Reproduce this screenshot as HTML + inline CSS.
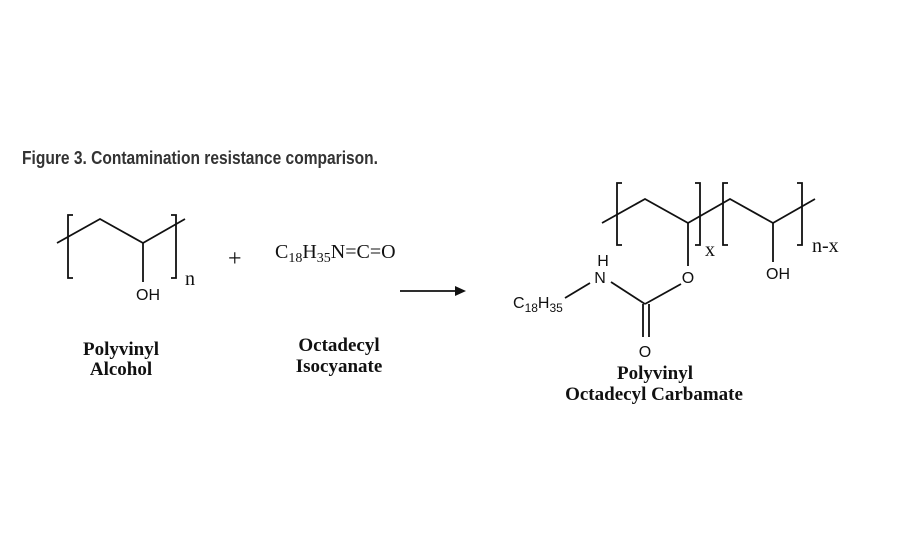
<!DOCTYPE html>
<html><head><style>body{margin:0;background:#fff}svg{display:block}</style></head><body>
<svg width="900" height="550" viewBox="0 0 900 550" xmlns="http://www.w3.org/2000/svg">
<rect width="900" height="550" fill="#fff"/>
<text x="22" y="164" font-family="Liberation Sans, sans-serif" font-weight="bold" font-size="18" fill="#333" textLength="356" lengthAdjust="spacingAndGlyphs">Figure 3. Contamination resistance comparison.</text>
<g stroke="#111" stroke-width="1.8" fill="none">
<polyline points="57,243 100,219 143,243 185,219"/>
<line x1="143" y1="243" x2="143" y2="282"/>
<polyline points="73,215 68,215 68,278 73,278"/>
<polyline points="171,215 176,215 176,278 171,278"/>
<line x1="400" y1="291" x2="458" y2="291"/>
<polyline points="602,223 645,199 688,223 730,199 773,223 815,199"/>
<polyline points="622,183 617,183 617,245 622,245"/>
<polyline points="695,183 700,183 700,245 695,245"/>
<polyline points="728,183 723,183 723,245 728,245"/>
<polyline points="797,183 802,183 802,245 797,245"/>
<line x1="688" y1="223" x2="688" y2="266"/>
<line x1="773" y1="223" x2="773" y2="262"/>
<line x1="681" y1="284" x2="645" y2="304"/>
<line x1="611" y1="282" x2="645" y2="304"/>
<line x1="590" y1="283" x2="565" y2="298"/>
<line x1="643" y1="304" x2="643" y2="337"/>
<line x1="649" y1="304" x2="649" y2="337"/>
</g>
<polygon points="466,291 455,286 455,296" fill="#111"/>
<g font-family="Liberation Sans, sans-serif" font-size="16" fill="#111" text-anchor="middle">
<text x="148" y="300">OH</text>
<text x="688" y="283">O</text>
<text x="778" y="279">OH</text>
<text x="600" y="283">N</text>
<text x="603" y="266">H</text>
<text x="645" y="357">O</text>
<text x="513" y="308" text-anchor="start">C<tspan font-size="12" dy="4">18</tspan><tspan dy="-4">H</tspan><tspan font-size="12" dy="4">35</tspan></text>
</g>
<g font-family="Liberation Serif, serif" font-size="20" fill="#111">
<text x="185" y="285">n</text>
<text x="228" y="266" font-size="24">+</text>
<text x="275" y="258">C<tspan font-size="14" dy="4">18</tspan><tspan dy="-4">H</tspan><tspan font-size="14" dy="4">35</tspan><tspan dy="-4">N=C=O</tspan></text>
<text x="705" y="256">x</text>
<text x="812" y="252">n-x</text>
</g>
<g font-family="Liberation Serif, serif" font-size="19" font-weight="bold" fill="#111" text-anchor="middle">
<text x="121" y="355">Polyvinyl</text>
<text x="121" y="375">Alcohol</text>
<text x="339" y="351">Octadecyl</text>
<text x="339" y="372">Isocyanate</text>
<text x="655" y="379">Polyvinyl</text>
<text x="654" y="400">Octadecyl Carbamate</text>
</g>
</svg>
</body></html>
